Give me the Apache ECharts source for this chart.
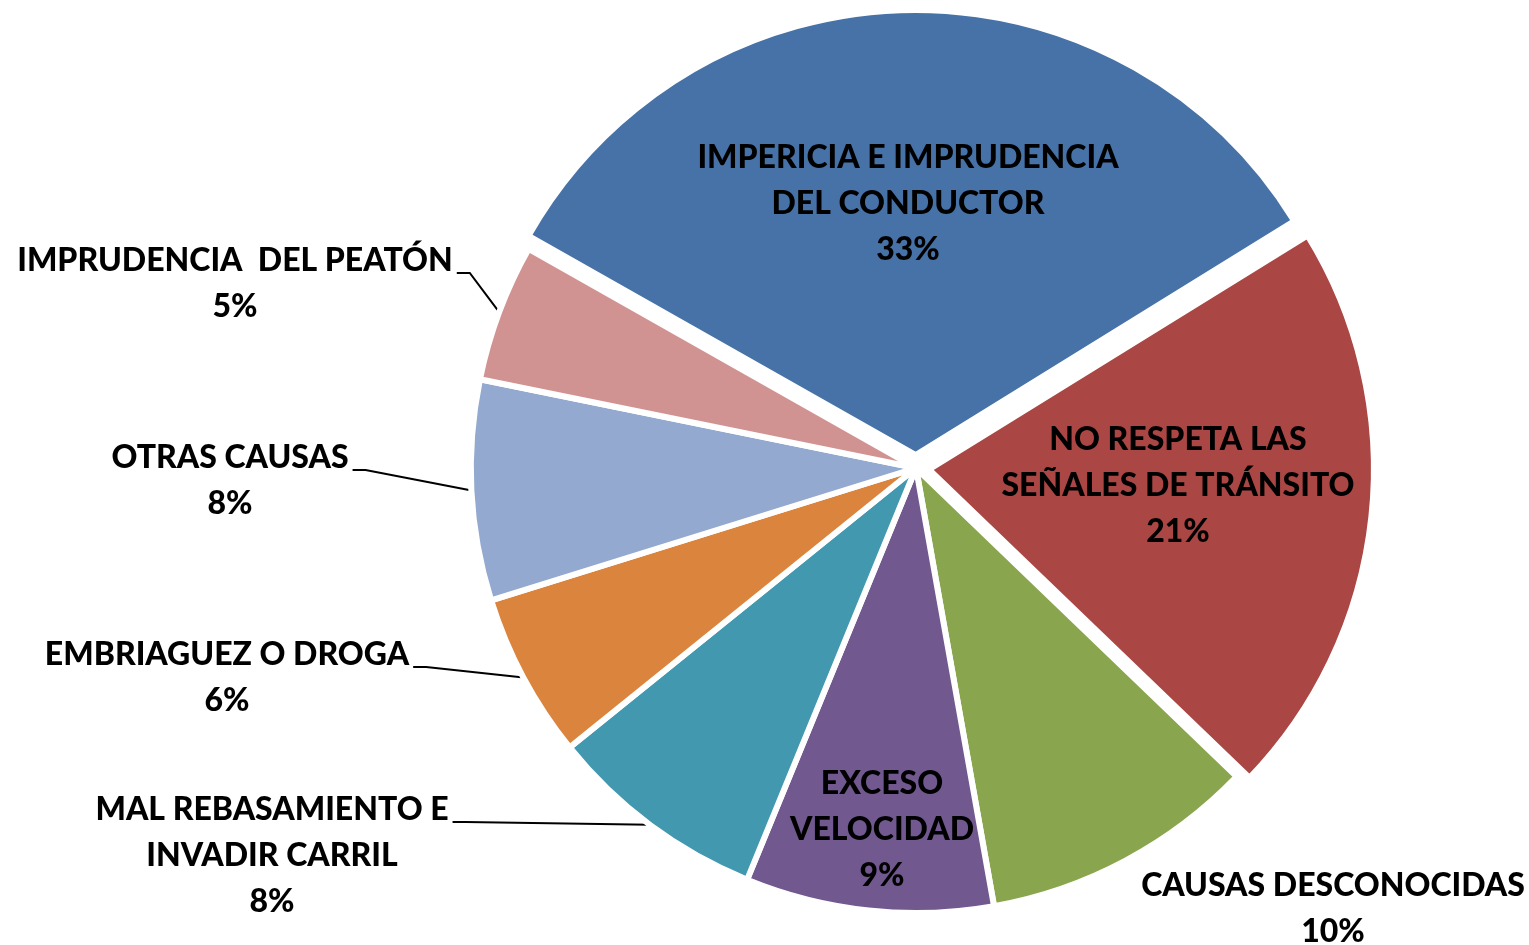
<!DOCTYPE html>
<html>
<head>
<meta charset="utf-8">
<script src="https://cdn.jsdelivr.net/npm/echarts@6/dist/echarts.min.js"></script>
<style>
html, body { margin: 0; padding: 0; background: #fff; }
#grafico { width: 1529px; height: 945px; }
</style>
</head>
<body>
<div id="grafico"></div>
<script>
// datos
const causas = [
    'IMPERICIA E IMPRUDENCIA\nDEL CONDUCTOR',
    'NO RESPETA LAS\nSEÑALES DE TRÁNSITO',
    'CAUSAS DESCONOCIDAS',
    'EXCESO\nVELOCIDAD',
    'MAL REBASAMIENTO E\nINVADIR CARRIL',
    'EMBRIAGUEZ O DROGA',
    'OTRAS CAUSAS',
    'IMPRUDENCIA  DEL PEATÓN'
];
const porcentajes = [33, 21, 10, 9, 8, 6, 8, 5];
const colores = ['#4672A8', '#AA4644', '#89A54E', '#71588F', '#4198AF', '#DB843D', '#93A9CF', '#D19392'];
const separadas = [true, true, false, false, false, false, false, false];
const conLinea = [false, false, false, false, true, true, true, true];

// posicion de cada etiqueta: centro x, centro de la primera linea
const posEtiquetas = [[908, 158], [1178, 440], [1333, 886], [882, 784], [272, 810], [227, 655], [230, 458], [235, 261]];

const centro = [916, 468];
const radio = 445;
const anguloInicio = 150.5;
const separacion = 13;

window.onload = init;

function init() {
    let grafico = echarts.init(document.getElementById('grafico'));
    let total = porcentajes.reduce((a, b) => a + b, 0);

    // centro desplazado de una porcion separada (sobre su bisectriz)
    function centroSeparado(i) {
        let acum = porcentajes.slice(0, i).reduce((a, b) => a + b, 0);
        let ang = (anguloInicio - 360 * (acum + porcentajes[i] / 2) / total) * Math.PI / 180;
        return [centro[0] + separacion * Math.cos(ang), centro[1] - separacion * Math.sin(ang)];
    }

    let series = [];

    // porciones separadas, una serie cada una
    separadas.forEach(function (sep, i) {
        if (!sep) return;
        series.push({
            type: 'pie',
            silent: true,
            center: centroSeparado(i),
            radius: radio,
            startAngle: anguloInicio,
            label: { show: false },
            labelLine: { show: false },
            itemStyle: { borderColor: '#fff', borderWidth: 6 },
            data: causas.map(function (nombre, j) {
                return {
                    name: nombre,
                    value: porcentajes[j],
                    itemStyle: j === i ? { color: colores[j] } : { color: 'transparent', borderWidth: 0 }
                };
            })
        });
    });

    // serie base con el resto de porciones y todas las etiquetas
    series.push({
        type: 'pie',
        silent: true,
        center: centro,
        radius: radio,
        startAngle: anguloInicio,
        avoidLabelOverlap: false,
        itemStyle: {
            borderColor: '#fff',
            borderWidth: 6
        },
        label: {
            show: true,
            position: 'outside',
            formatter: '{b}\n{c}%',
            color: '#000',
            fontFamily: 'Lato',
            fontWeight: 900,
            fontSize: 32,
            lineHeight: 46
        },
        labelLine: {
            lineStyle: { color: '#000', width: 2 }
        },
        labelLayout: function (p) {
            let i = p.dataIndex;
            let pos = posEtiquetas[i];
            let res = { x: pos[0], y: pos[1] - 23, align: 'center', verticalAlign: 'top' };
            if (conLinea[i] && p.labelLinePoints) {
                let derecha = pos[0] + p.labelRect.width / 2;
                let yLinea = pos[1] + 12;
                res.labelLinePoints = [p.labelLinePoints[0], [derecha + 17, yLinea], [derecha + 4, yLinea]];
            }
            return res;
        },
        data: causas.map(function (nombre, i) {
            return {
                name: nombre,
                value: porcentajes[i],
                itemStyle: separadas[i] ? { color: 'transparent', borderWidth: 0 } : { color: colores[i] },
                labelLine: { show: conLinea[i] }
            };
        })
    });

    grafico.setOption({ animation: false, series: series });
}
</script>
</body>
</html>
